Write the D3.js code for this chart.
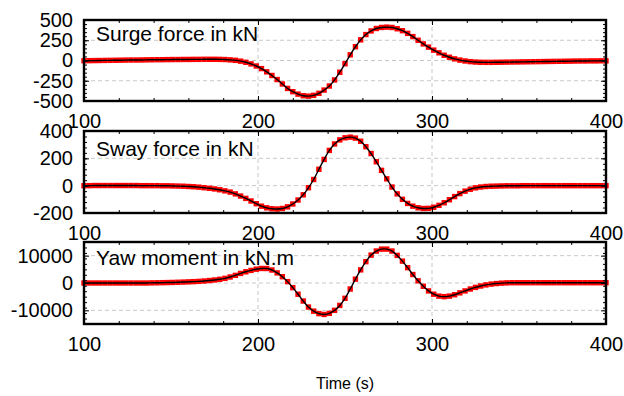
<!DOCTYPE html>
<html>
<head>
<meta charset="utf-8">
<script src="https://cdn.jsdelivr.net/npm/d3@7"></script>
<style>
  body { margin: 0; background: #fff; }
  .grid line { stroke: #c8c8c8; stroke-width: 1; stroke-dasharray: 4,3; }
  .axis text { fill: #000; }
  .axis line { stroke: #000; stroke-width: 1; }
</style>
</head>
<body>
<div id="chart"></div>
<script>
// SVG dimensions
var w = 624;
var h = 396;
var left = 84;
var right = 606;
var fontFamily = '"Liberation Sans", Arial, sans-serif';

// Sampling grid of the records (s)
var times = d3.range(100, 401, 3);

// Values, one per time sample
var surge = [
  -3, -2, -1, 0, 1, 2, 3, 4, 5, 6,
  6, 7, 8, 9, 10, 10, 11, 12, 12, 13,
  13, 14, 14, 15, 15, 15, 14, 12, 8, 2,
  -8, -22, -42, -68, -100, -140, -185, -235, -290, -345,
  -385, -415, -435, -440, -430, -405, -365, -315, -240, -145,
  -40, 70, 170, 255, 320, 365, 395, 408, 412, 408,
  392, 368, 335, 295, 250, 205, 165, 128, 95, 65,
  40, 20, 5, -6, -14, -19, -22, -23, -23, -22,
  -21, -20, -19, -18, -17, -16, -15, -14, -13, -12,
  -11, -10, -9, -8, -7, -6, -6, -5, -5, -4,
  -4,
];

var sway = [
  0, 0, 1, 1, 1, 1, 1, 1, 1, 1,
  1, 0, 0, 0, 0, -1, -1, -2, -3, -4,
  -6, -8, -11, -15, -19, -24, -30, -38, -47, -60,
  -76, -93, -112, -132, -150, -162, -169, -171, -167, -155,
  -134, -105, -67, -15, 45, 120, 192, 258, 305, 335,
  350, 355, 348, 325, 285, 235, 175, 112, 50, -10,
  -60, -100, -130, -150, -162, -167, -166, -158, -144, -125,
  -103, -80, -58, -40, -26, -16, -10, -6, -4, -3,
  -2, -1, -1, -1, 0, 0, 0, 0, 0, 0,
  0, 0, 0, 0, 0, 0, 0, 0, 0, 0,
  0,
];

var yaw = [
  0, 0, 0, 0, 0, 0, 0, 0, 0, 0,
  0, 0, 0, 50, 80, 120, 160, 210, 270, 340,
  420, 500, 600, 730, 900, 1100, 1350, 1700, 2200, 2800,
  3500, 4100, 4600, 5050, 5320, 5300, 4750, 3700, 2300, 500,
  -1700, -4100, -6600, -8800, -10300, -11200, -11500, -11100, -10000, -8200,
  -5600, -2200, 1400, 4800, 7800, 10200, 11700, 12400, 12400, 11700,
  10100, 8000, 5600, 3100, 800, -1200, -2900, -4100, -4800, -5000,
  -4800, -4300, -3600, -2900, -2200, -1600, -1100, -700, -400, -200,
  -50, 50, 100, 100, 100, 100, 100, 100, 100, 100,
  100, 100, 100, 100, 100, 100, 100, 100, 100, 100,
  100,
];

// Axis ticks
var xTicks = [100, 200, 300, 400];
var surgeTicks = [-500, -250, 0, 250, 500];
var swayTicks = [-200, 0, 200, 400];
var yawTicks = [-10000, 0, 10000];

var titles = ['Surge force in kN', 'Sway force in kN', 'Yaw moment in kN.m'];
var xTitle = 'Time (s)';

// Panel layout
var panels = [
  { values: surge, ticks: surgeTicks, domain: [-500, 500], minor: 50, top: 20, bottom: 101 },
  { values: sway, ticks: swayTicks, domain: [-200, 400], minor: 40, top: 131, bottom: 213 },
  { values: yaw, ticks: yawTicks, domain: [-15000, 15000], minor: 2000, top: 242, bottom: 324 },
];

var svg = d3.select('#chart')
  .append('svg')
  .attr('width', w)
  .attr('height', h);

var xScale = d3.scaleLinear()
  .domain([100, 400])
  .range([left, right]);

var xMinor = d3.range(100, 401, 20);

// plain hyphen minus like the original
var plain = d => String(d);

panels.forEach((p, i) => {
  var yScale = d3.scaleLinear()
    .domain(p.domain)
    .range([p.bottom, p.top]);

  var g = svg.append('g');
  var yMinor = d3.range(p.domain[0], p.domain[1] + 1, p.minor);

  // Dashed grid
  var grid = g.append('g').attr('class', 'grid');
  grid.selectAll('.gx')
    .data(xTicks.filter(t => t > 100 && t < 400))
    .enter()
    .append('line')
    .attr('x1', d => xScale(d))
    .attr('x2', d => xScale(d))
    .attr('y1', p.top)
    .attr('y2', p.bottom);
  grid.selectAll('.gy')
    .data(p.ticks.filter(t => t > p.domain[0] && t < p.domain[1]))
    .enter()
    .append('line')
    .attr('x1', left)
    .attr('x2', right)
    .attr('y1', d => yScale(d))
    .attr('y2', d => yScale(d));

  var data = times.map((t, k) => ({ t: t, v: p.values[k] }));

  // Measured: red squares
  var size = 5.4;
  g.append('g')
    .selectAll('rect')
    .data(data)
    .enter()
    .append('rect')
    .attr('x', d => xScale(d.t) - size / 2)
    .attr('y', d => yScale(d.v) - size / 2)
    .attr('width', size)
    .attr('height', size)
    .attr('fill', '#ff0000');

  // Simulated: black line
  var line = d3.line()
    .x(d => xScale(d.t))
    .y(d => yScale(d.v))
    .curve(d3.curveCatmullRom);

  g.append('path')
    .datum(data)
    .attr('d', line)
    .attr('fill', 'none')
    .attr('stroke', '#000')
    .attr('stroke-width', 1.4);

  // Axes with inward ticks
  var xAxis = d3.axisBottom(xScale)
    .tickValues(xTicks)
    .tickFormat(plain)
    .tickSizeInner(-5)
    .tickSizeOuter(0)
    .tickPadding(13);
  var xAxisGroup = g.append('g')
    .attr('class', 'axis')
    .attr('transform', `translate(0, ${p.bottom})`)
    .call(xAxis);

  var yAxis = d3.axisLeft(yScale)
    .tickValues(p.ticks)
    .tickFormat(plain)
    .tickSizeInner(-5)
    .tickSizeOuter(0)
    .tickPadding(11);
  var yAxisGroup = g.append('g')
    .attr('class', 'axis')
    .attr('transform', `translate(${left}, 0)`)
    .call(yAxis);

  [xAxisGroup, yAxisGroup].forEach(a => {
    a.attr('font-size', 20).attr('font-family', fontFamily);
    a.select('.domain').remove();
  });

  // Ticks only: top and right, plus minor ticks everywhere
  var tickOnly = function (axis, transform) {
    var a = g.append('g')
      .attr('class', 'axis')
      .attr('transform', transform)
      .call(axis);
    a.select('.domain').remove();
    a.selectAll('text').remove();
  };
  tickOnly(d3.axisTop(xScale).tickValues(xTicks).tickSize(-5), `translate(0, ${p.top})`);
  tickOnly(d3.axisRight(yScale).tickValues(p.ticks).tickSize(-5), `translate(${right}, 0)`);
  tickOnly(d3.axisBottom(xScale).tickValues(xMinor).tickSize(-3), `translate(0, ${p.bottom})`);
  tickOnly(d3.axisTop(xScale).tickValues(xMinor).tickSize(-3), `translate(0, ${p.top})`);
  tickOnly(d3.axisLeft(yScale).tickValues(yMinor).tickSize(-3), `translate(${left}, 0)`);
  tickOnly(d3.axisRight(yScale).tickValues(yMinor).tickSize(-3), `translate(${right}, 0)`);

  // Frame
  g.append('rect')
    .attr('x', left)
    .attr('y', p.top)
    .attr('width', right - left)
    .attr('height', p.bottom - p.top)
    .attr('fill', 'none')
    .attr('stroke', '#000')
    .attr('stroke-width', 2.4);

  // Panel label
  g.append('text')
    .text(titles[i])
    .attr('x', 96)
    .attr('y', [41, 156, 265][i])
    .attr('font-family', fontFamily)
    .attr('font-size', 21);
});

svg.append('text')
  .text(xTitle)
  .attr('x', 345)
  .attr('y', 389)
  .attr('text-anchor', 'middle')
  .attr('font-family', fontFamily)
  .attr('font-size', 16);
</script>
</body>
</html>
